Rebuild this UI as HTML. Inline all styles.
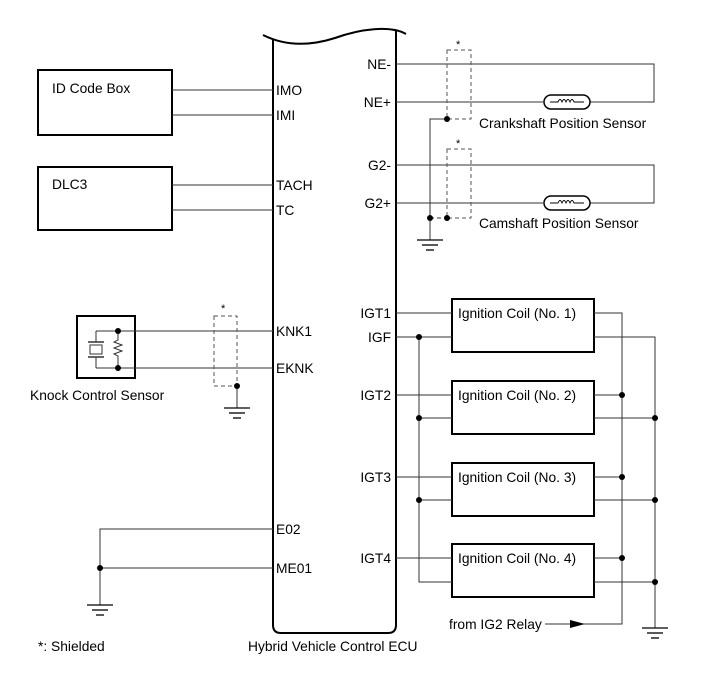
<!DOCTYPE html>
<html><head><meta charset="utf-8"><style>
body{margin:0;background:#fff}
svg{display:block;font-family:"Liberation Sans",Arial,sans-serif;font-size:13.8px}
</style></head><body>
<svg width="713" height="681" viewBox="0 0 713 681" xmlns="http://www.w3.org/2000/svg">
<defs>
<g id="gnd" stroke="#000" stroke-width="1.3"><line x1="-13" y1="0" x2="13" y2="0"/><line x1="-8" y1="5" x2="8" y2="5"/><line x1="-4" y1="10" x2="4" y2="10"/></g>
</defs>
<g fill="none" stroke="#000">
<path d="M263,35 C285,46 310,46 335,38 C360,29 390,25 406,34" stroke-width="2"/>
<path d="M273,40 V625 Q273,633 281,633 H388 Q396,633 396,625 V30" stroke-width="2"/>
<rect x="38" y="70" width="134" height="65" stroke-width="2"/>
<rect x="38" y="167" width="134" height="63" stroke-width="2"/>
<rect x="77" y="316" width="58" height="62" stroke-width="2"/>
<rect x="452" y="299" width="142" height="53" stroke-width="2"/>
<rect x="452" y="381" width="142" height="53" stroke-width="2"/>
<rect x="452" y="463" width="142" height="53" stroke-width="2"/>
<rect x="452" y="544" width="142" height="53" stroke-width="2"/>
</g>
<g fill="none" stroke="#333" stroke-width="1">
<line x1="172" y1="90" x2="273" y2="90"/><line x1="172" y1="115" x2="273" y2="115"/>
<line x1="172" y1="185" x2="273" y2="185"/><line x1="172" y1="210" x2="273" y2="210"/>
<line x1="96" y1="331" x2="273" y2="331"/><line x1="96" y1="368" x2="273" y2="368"/>
<line x1="96" y1="331" x2="96" y2="342"/><line x1="96" y1="357" x2="96" y2="368"/>
<line x1="88" y1="342" x2="104" y2="342" stroke-width="1.5"/><line x1="88" y1="357" x2="104" y2="357" stroke-width="1.5"/>
<rect x="90" y="345" width="12" height="9"/>
<polyline points="118,331 118,340 114,342 122,345 114,348 122,351 114,354 118,356 118,368"/>
<rect x="214" y="316" width="23" height="70" stroke-dasharray="4,3" stroke="#555"/>
<line x1="237" y1="386" x2="237" y2="408"/>
<polyline points="273,529 100,529 100,605"/><line x1="100" y1="568" x2="273" y2="568"/>
<polyline points="396,64 654,64 654,102 590,102"/><line x1="396" y1="102" x2="543" y2="102"/>
<polyline points="396,165 654,165 654,203 590,203"/><line x1="396" y1="203" x2="543" y2="203"/>
<rect x="447" y="50" width="24" height="69" stroke-dasharray="4,3" stroke="#555"/>
<rect x="447" y="149" width="24" height="69" stroke-dasharray="4,3" stroke="#555"/>
<polyline points="447,119 430,119 430,240"/><line x1="430" y1="218" x2="447" y2="218" stroke-dasharray="4,3"/>
<line x1="396" y1="313" x2="452" y2="313"/><line x1="396" y1="337" x2="452" y2="337"/>
<line x1="396" y1="395" x2="452" y2="395"/><line x1="419" y1="418" x2="452" y2="418"/>
<line x1="396" y1="477" x2="452" y2="477"/><line x1="419" y1="500" x2="452" y2="500"/>
<line x1="396" y1="558" x2="452" y2="558"/><polyline points="419,337 419,582 452,582"/>
<polyline points="594,313 622,313 622,624 545,624"/>
<line x1="594" y1="395" x2="622" y2="395"/><line x1="594" y1="477" x2="622" y2="477"/><line x1="594" y1="558" x2="622" y2="558"/>
<polyline points="594,337 655,337 655,628"/>
<line x1="594" y1="418" x2="655" y2="418"/><line x1="594" y1="500" x2="655" y2="500"/><line x1="594" y1="582" x2="655" y2="582"/>
</g>
<g fill="#fff" stroke="#000" stroke-width="1.5">
<rect x="544" y="95" width="46" height="14" rx="7"/>
<rect x="544" y="196" width="46" height="14" rx="7"/>
</g>
<g fill="none" stroke="#000" stroke-width="0.9">
<path d="M550,102 H558 q2,-5 4,0 q2,-5 4,0 q2,-5 4,0 q2,-5 4,0 H584"/>
<path d="M550,203 H558 q2,-5 4,0 q2,-5 4,0 q2,-5 4,0 q2,-5 4,0 H584"/>
</g>
<polygon points="570,620 585,624 570,628" fill="#000"/>
<use href="#gnd" x="237" y="408"/><use href="#gnd" x="100" y="605"/><use href="#gnd" x="430" y="240"/><use href="#gnd" x="655" y="628"/>
<g fill="#000">
<circle cx="118" cy="331" r="3"/><circle cx="118" cy="368" r="3"/><circle cx="237" cy="386" r="3"/>
<circle cx="100" cy="568" r="3"/><circle cx="447" cy="119" r="3"/><circle cx="447" cy="218" r="3"/><circle cx="430" cy="218" r="3"/>
<circle cx="419" cy="337" r="3"/><circle cx="419" cy="418" r="3"/><circle cx="419" cy="500" r="3"/>
<circle cx="622" cy="395" r="3"/><circle cx="622" cy="477" r="3"/><circle cx="622" cy="558" r="3"/>
<circle cx="655" cy="418" r="3"/><circle cx="655" cy="500" r="3"/><circle cx="655" cy="582" r="3"/>
</g>
<g fill="#000">
<text x="52" y="93">ID Code Box</text>
<text x="52" y="189">DLC3</text>
<text x="276" y="95">IMO</text><text x="276" y="120">IMI</text>
<text x="276" y="190">TACH</text><text x="276" y="215">TC</text>
<text x="276" y="336">KNK1</text><text x="276" y="373">EKNK</text>
<text x="276" y="534">E02</text><text x="276" y="573">ME01</text>
<text x="30" y="400">Knock Control Sensor</text>
<text x="221" y="312" font-size="11">*</text>
<text x="456" y="48" font-size="11">*</text><text x="456" y="147" font-size="11">*</text>
<g text-anchor="end">
<text x="391" y="69">NE-</text><text x="391" y="107">NE+</text>
<text x="391" y="170">G2-</text><text x="391" y="208">G2+</text>
<text x="391" y="318">IGT1</text><text x="391" y="342">IGF</text>
<text x="391" y="400">IGT2</text><text x="391" y="482">IGT3</text><text x="391" y="563">IGT4</text>
</g>
<text x="479" y="128">Crankshaft Position Sensor</text>
<text x="479" y="228">Camshaft Position Sensor</text>
<text x="458" y="318">Ignition Coil (No. 1)</text>
<text x="458" y="400">Ignition Coil (No. 2)</text>
<text x="458" y="482">Ignition Coil (No. 3)</text>
<text x="458" y="563">Ignition Coil (No. 4)</text>
<text x="449" y="629">from IG2 Relay</text>
<text x="38" y="651">*: Shielded</text>
<text x="248" y="651">Hybrid Vehicle Control ECU</text>
</g>
</svg>
</body></html>
